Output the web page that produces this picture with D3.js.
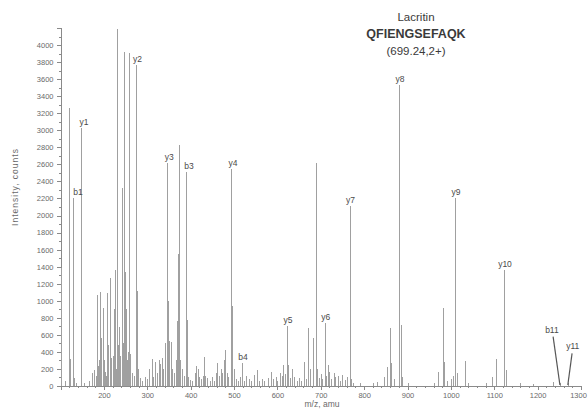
<!DOCTYPE html>
<html>
<head>
<meta charset="utf-8">
<script src="https://cdn.jsdelivr.net/npm/d3@7"></script>
<style>
	body { margin: 0; background: #fff; }
	svg { display: block; font-family: "Liberation Sans", Arial, sans-serif; }
	.peak { stroke: #a0a0a0; stroke-width: 1; shape-rendering: crispEdges; }
	.axis path, .axis line { stroke: #8a8a8a; shape-rendering: crispEdges; }
	.axis text { fill: #6a6a6a; font-size: 7.5px; }
	.ion { fill: #4a4a4a; font-size: 8.5px; text-anchor: middle; }
	.leader { stroke: #555; stroke-width: 1.2; }
</style>
</head>
<body>
<svg id="spectrum" width="588" height="412"></svg>
<script>

// Spectrum peaks (m/z, counts)
const peakMz = [
	101, 110, 120, 121, 129, 130, 136, 147, 148, 155, 165, 172, 178, 182, 184, 186, 189, 191, 194, 198,
	200, 202, 205, 207, 210, 214, 217, 221, 223, 225, 228, 230, 232, 235, 238, 241, 242, 244, 246, 248,
	250, 253, 256, 257.6, 259, 261, 265, 270, 275.2, 276, 278, 283, 288, 295, 300, 305, 310, 313, 318, 322,
	326, 330, 334, 337, 340, 346.2, 348, 351, 355, 358, 362, 366, 369, 371, 373, 376, 380, 385, 389.2, 390.5,
	394, 399, 404, 409, 412, 416, 420, 424, 428, 431, 434, 438, 444, 449, 453, 458, 461, 465, 469, 473,
	476, 479, 483, 487, 493.3, 494.5, 496, 499, 504, 510, 514, 518.2, 523, 528, 535, 540, 545, 552, 558, 565,
	570, 578, 585, 590, 596, 600, 605, 610, 614, 618, 622.3, 624, 628, 634, 638, 645, 650, 655, 661, 666,
	670, 675, 683, 688.5, 691, 696, 701, 704, 709.3, 712, 716, 720, 724, 730, 734, 740, 745, 750, 755, 760,
	766.4, 767.5, 770, 775, 790, 820, 830, 845, 852, 859, 863, 868, 880.4, 881.4, 884, 888, 900, 960, 970, 981,
	984, 992, 1000, 1005, 1009.4, 1010.4, 1015, 1032, 1040, 1080, 1094, 1105, 1122.5, 1128, 1160, 1190, 1235, 1251.4, 1269.6
];
const peakCounts = [
	1380, 60, 3260, 320, 2200, 90, 40, 3030, 320, 40, 60, 150, 190, 120, 1070, 230, 300, 1100, 560, 915,
	300, 160, 120, 1090, 480, 1270, 330, 350, 900, 1360, 200, 4190, 480, 690, 350, 985, 2320, 500, 3920, 1340,
	900, 300, 400, 3906, 1630, 380, 150, 120, 3770, 1110, 200, 90, 60, 100, 80, 200, 320, 100, 280, 150,
	300, 260, 330, 200, 500, 2620, 1000, 530, 520, 200, 150, 300, 760, 1550, 2830, 300, 200, 120, 2510, 780,
	100, 70, 60, 150, 240, 200, 100, 80, 120, 340, 120, 90, 60, 100, 60, 150, 270, 120, 200, 150,
	300, 420, 150, 100, 2540, 660, 940, 200, 80, 60, 100, 270, 60, 120, 80, 60, 130, 190, 60, 80,
	60, 90, 160, 80, 110, 60, 150, 120, 250, 140, 700, 250, 90, 200, 110, 60, 90, 60, 280, 80,
	680, 200, 560, 2620, 200, 90, 140, 80, 740, 120, 250, 165, 80, 150, 100, 120, 60, 130, 70, 100,
	2110, 930, 80, 40, 30, 30, 50, 100, 225, 680, 270, 80, 3530, 1160, 715, 100, 30, 40, 160, 915,
	280, 60, 80, 120, 2200, 1160, 150, 290, 40, 30, 100, 315, 1360, 190, 30, 20, 50, 40, 30
];

// Assigned fragment ions
const ionNames = ["b1", "y1", "y2", "y3", "b3", "y4", "b4", "y5", "y6", "y7", "y8", "y9", "y10", "b11", "y11"];
const ionMz = [129, 147, 275.2, 346.2, 389.2, 493.3, 518.2, 622.3, 709.3, 766.4, 880.4, 1009.4, 1122.5, 1251.4, 1269.6];
const ionCounts = [2200, 3030, 3770, 2620, 2510, 2540, 270, 700, 740, 2110, 3530, 2200, 1360, 40, 30];

const titleLines = ["Lacritin", "QFIENGSEFAQK", "(699.24,2+)"];

const xTicks = [200, 300, 400, 500, 600, 700, 800, 900, 1000, 1100, 1200, 1300];
const yTicks = d3.range(0, 4001, 200);

function whenDocumentLoaded(action) {
	if (document.readyState === "loading") {
		document.addEventListener("DOMContentLoaded", action);
	} else {
		action();
	}
}

whenDocumentLoaded(() => {
	const svg = d3.select("#spectrum");

	const x = d3.scaleLinear().domain([100, 1300]).range([60.5, 581]);
	const y = d3.scaleLinear().domain([0, 4200]).range([386, 28]);

	// axes: labelled major ticks plus small minor ticks
	svg.append("g").attr("class", "axis")
		.attr("transform", "translate(0,386)")
		.call(d3.axisBottom(x).tickValues(d3.range(120, 1301, 20)).tickSize(2).tickFormat(""));
	const xAxis = svg.append("g").attr("class", "axis")
		.attr("transform", "translate(0,386)")
		.call(d3.axisBottom(x).tickValues(xTicks).tickSize(4).tickPadding(3).tickFormat(d3.format("d")));
	// last label would run past the edge, pull it in a little
	xAxis.selectAll(".tick text").filter(d => d === 1300).attr("dx", "-3px");

	svg.append("g").attr("class", "axis")
		.attr("transform", "translate(60.5,0)")
		.call(d3.axisLeft(y).tickValues(d3.range(100, 4200, 200)).tickSize(2).tickFormat(""));
	svg.append("g").attr("class", "axis")
		.attr("transform", "translate(60.5,0)")
		.call(d3.axisLeft(y).tickValues(yTicks).tickSize(4).tickPadding(3).tickFormat(d3.format("d")));

	// the stick spectrum
	const peaks = peakMz.map((m, i) => ({ mz: m, counts: peakCounts[i] }));
	svg.append("g").selectAll("line")
		.data(peaks)
		.join("line")
		.attr("class", "peak")
		.attr("x1", d => Math.round(x(d.mz)) + 0.5)
		.attr("x2", d => Math.round(x(d.mz)) + 0.5)
		.attr("y1", y(0))
		.attr("y2", d => y(d.counts));

	// ion labels, a few sit off to the side on a leader line
	const ions = ionNames.map((n, i) => ({ name: n, mz: ionMz[i], counts: ionCounts[i] }));
	const leaderOffset = { b11: [-8, -50], y11: [5, -34] };
	const nudge = { b1: 4, y1: 2, y4: 1, y3: 1, b3: 2 };

	ions.forEach(d => {
		const px = x(d.mz), py = y(d.counts);
		if (leaderOffset[d.name]) {
			const [dx, dy] = leaderOffset[d.name];
			svg.append("line").attr("class", "leader")
				.attr("x1", px + dx * 0.85).attr("y1", py + dy + 4)
				.attr("x2", px).attr("y2", y(0) - 1);
			svg.append("text").attr("class", "ion")
				.attr("x", px + dx).attr("y", py + dy)
				.text(d.name);
		} else {
			svg.append("text").attr("class", "ion")
				.attr("x", px + 1 + (nudge[d.name] || 0))
				.attr("y", py - 3)
				.text(d.name);
		}
	});

	// axis titles
	svg.append("text")
		.attr("x", 322).attr("y", 407)
		.attr("text-anchor", "middle")
		.style("font-size", "8.5px").style("fill", "#6a6a6a")
		.text("m/z, amu");
	svg.append("text")
		.attr("transform", "translate(18,187) rotate(-90)")
		.attr("text-anchor", "middle")
		.style("font-size", "8.5px").style("fill", "#6a6a6a")
		.style("letter-spacing", "1px")
		.text("Intensity, counts");

	// peptide caption
	svg.append("g").selectAll("text")
		.data(titleLines)
		.join("text")
		.attr("x", 416)
		.attr("y", (d, i) => 21 + i * 17)
		.attr("text-anchor", "middle")
		.style("fill", "#3a3a3a")
		.style("font-size", (d, i) => i === 1 ? "12.5px" : "11.5px")
		.style("font-weight", (d, i) => i === 1 ? "bold" : "normal")
		.text(d => d);
});
</script>
</body>
</html>
